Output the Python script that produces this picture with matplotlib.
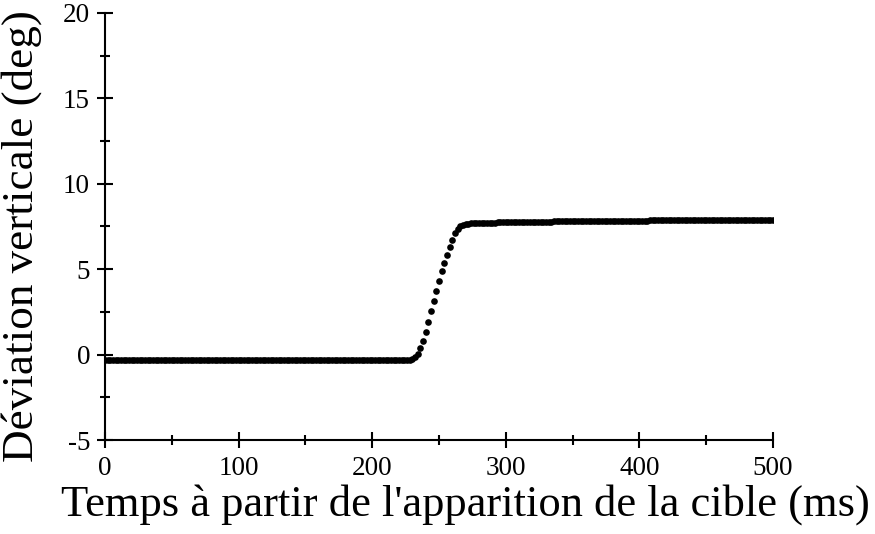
import numpy as np
import matplotlib
matplotlib.use("Agg")
import matplotlib.pyplot as plt
from matplotlib.ticker import MultipleLocator

# Time base: samples every 2 ms from 0 to 500 ms
time_ms = np.arange(0, 501, 2)

# Baseline before the saccade (t = 0 .. 228 ms), read as about -0.3 deg
baseline = [
    -0.30, -0.30, -0.30, -0.30, -0.30, -0.30, -0.30, -0.30, -0.30, -0.30,
    -0.30, -0.30, -0.30, -0.30, -0.30, -0.30, -0.30, -0.30, -0.30, -0.30,
    -0.30, -0.30, -0.30, -0.30, -0.30, -0.30, -0.30, -0.30, -0.30, -0.30,
    -0.30, -0.30, -0.30, -0.30, -0.30, -0.30, -0.30, -0.30, -0.30, -0.30,
    -0.30, -0.30, -0.30, -0.30, -0.30, -0.30, -0.30, -0.30, -0.30, -0.30,
    -0.30, -0.30, -0.30, -0.30, -0.30, -0.30, -0.30, -0.30, -0.30, -0.30,
    -0.30, -0.30, -0.30, -0.30, -0.30, -0.30, -0.30, -0.30, -0.30, -0.30,
    -0.30, -0.30, -0.30, -0.30, -0.30, -0.30, -0.30, -0.30, -0.30, -0.30,
    -0.30, -0.30, -0.30, -0.30, -0.30, -0.30, -0.30, -0.30, -0.30, -0.30,
    -0.30, -0.30, -0.30, -0.30, -0.30, -0.30, -0.30, -0.30, -0.30, -0.30,
    -0.30, -0.30, -0.30, -0.30, -0.30, -0.30, -0.30, -0.30, -0.30, -0.30,
    -0.30, -0.30, -0.30, -0.30, -0.30,
]

# Saccade (t = 230 .. 268 ms)
saccade = [
    -0.28, -0.15, 0.06, 0.39, 0.82, 1.33, 1.92, 2.54, 3.16, 3.75,
    4.32, 4.88, 5.37, 5.85, 6.31, 6.73, 7.10, 7.36, 7.51, 7.59,
]

# Post-saccadic plateau (t = 270 .. 500 ms)
plateau = [
    7.63, 7.66, 7.68, 7.69, 7.70, 7.70, 7.71, 7.71, 7.72, 7.72,
    7.73, 7.73, 7.74, 7.74, 7.75, 7.75, 7.75, 7.76, 7.76, 7.76,
    7.77, 7.77, 7.77, 7.77, 7.78, 7.78, 7.78, 7.78, 7.79, 7.79,
    7.79, 7.79, 7.79, 7.80, 7.80, 7.80, 7.80, 7.80, 7.80, 7.81,
    7.81, 7.81, 7.81, 7.81, 7.82, 7.82, 7.82, 7.82, 7.82, 7.82,
    7.83, 7.83, 7.83, 7.83, 7.83, 7.83, 7.84, 7.84, 7.84, 7.84,
    7.84, 7.84, 7.85, 7.85, 7.85, 7.85, 7.85, 7.85, 7.85, 7.86,
    7.86, 7.86, 7.86, 7.86, 7.86, 7.86, 7.86, 7.87, 7.87, 7.87,
    7.87, 7.87, 7.87, 7.87, 7.87, 7.88, 7.88, 7.88, 7.88, 7.88,
    7.88, 7.88, 7.88, 7.88, 7.89, 7.89, 7.89, 7.89, 7.89, 7.89,
    7.89, 7.89, 7.89, 7.90, 7.90, 7.90, 7.90, 7.90, 7.90, 7.90,
    7.90, 7.90, 7.90, 7.90, 7.90, 7.90,
]

deviation = np.array(baseline + saccade + plateau)

x_ticks = [0, 100, 200, 300, 400, 500]
y_ticks = [-5, 0, 5, 10, 15, 20]

plt.rcParams["font.family"] = ["Liberation Serif", "DejaVu Serif"]

fig = plt.figure(figsize=(8.75, 5.34), dpi=100)
ax = fig.add_axes([0.12, 0.176, 0.7634, 0.7997])

ax.plot(time_ms, deviation, linestyle="none", marker="o",
        markersize=4.8, color="black", markeredgewidth=0)

ax.set_xlim(0, 500)
ax.set_ylim(-5, 20)
ax.set_xticks(x_ticks)
ax.set_yticks(y_ticks)
ax.set_xticklabels([str(v) for v in x_ticks])
ax.set_yticklabels([str(v) for v in y_ticks])
ax.xaxis.set_minor_locator(MultipleLocator(50))
ax.yaxis.set_minor_locator(MultipleLocator(2.5))

for side in ("top", "right"):
    ax.spines[side].set_visible(False)
for side in ("left", "bottom"):
    ax.spines[side].set_linewidth(1.5)
    ax.spines[side].set_color("black")

ax.tick_params(which="major", direction="inout", length=11.5, width=1.5,
               labelsize=19.5)
ax.tick_params(axis="x", which="major", pad=6)
ax.tick_params(axis="y", which="major", pad=5)
ax.tick_params(which="minor", direction="inout", length=7, width=1.5)

ax.set_xlabel("Temps à partir de l'apparition de la cible (ms)", fontsize=32)
ax.set_ylabel("Déviation verticale (deg)", fontsize=32.5)
ax.xaxis.set_label_coords(0.539, -0.103)
ax.yaxis.set_label_coords(-0.094, 0.4766)

fig.savefig("out.png", dpi=100, facecolor="white")
